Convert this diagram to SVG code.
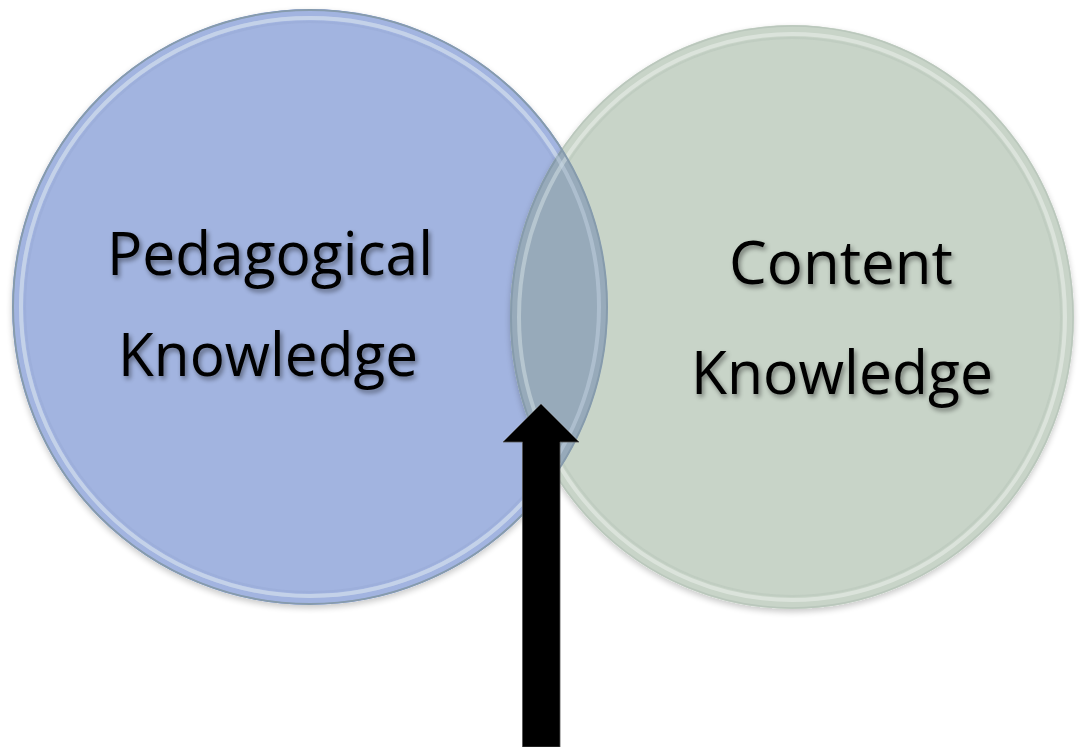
<svg xmlns="http://www.w3.org/2000/svg" width="1080" height="747" viewBox="0 0 1080 747">
  <style>
    .label { font-family: "Open Sans", "Liberation Sans", sans-serif; font-size: 61px; fill: #000; text-anchor: middle; filter: url(#textShadow); }
    .rim { fill: none; stroke-width: 1.5; }
    .bevel { fill: none; stroke: #ffffff; stroke-opacity: 0.35; stroke-width: 4; }
  </style>
  <defs>
    <filter id="textShadow" x="-10%" y="-20%" width="120%" height="150%">
      <feGaussianBlur in="SourceAlpha" stdDeviation="2.5"/>
      <feOffset dx="2" dy="3" result="b"/>
      <feComponentTransfer><feFuncA type="linear" slope="0.45"/></feComponentTransfer>
      <feMerge><feMergeNode/><feMergeNode in="SourceGraphic"/></feMerge>
    </filter>
    <filter id="discShadow" x="-10%" y="-10%" width="120%" height="120%">
      <feGaussianBlur in="SourceAlpha" stdDeviation="3"/>
      <feOffset dx="0" dy="3"/>
      <feComponentTransfer><feFuncA type="linear" slope="0.22"/></feComponentTransfer>
      <feMerge><feMergeNode/><feMergeNode in="SourceGraphic"/></feMerge>
    </filter>
    <clipPath id="leftClip"><ellipse cx="310" cy="307" rx="298" ry="298"/></clipPath>
  </defs>

  <rect width="1080" height="747" fill="#ffffff"/>

  <!-- Pedagogical Knowledge disc -->
  <g id="pedagogical">
    <ellipse cx="310" cy="307" rx="298" ry="298" fill="#A2B4E0" filter="url(#discShadow)"/>
    <ellipse class="rim" cx="310" cy="307" rx="297" ry="297" stroke="#93A6D3"/>
    <ellipse class="bevel" cx="310" cy="307" rx="289" ry="289"/>
    <ellipse cx="310" cy="307" rx="285" ry="285" fill="none" stroke="#97A9D6" stroke-width="2" stroke-opacity="0.5"/>
  </g>

  <!-- Content Knowledge disc -->
  <g id="content">
    <ellipse cx="792" cy="317" rx="282" ry="292" fill="#C8D4C8" filter="url(#discShadow)"/>
    <ellipse class="rim" cx="792" cy="317" rx="281" ry="291" stroke="#BAC7BC"/>
    <ellipse class="bevel" cx="792" cy="317" rx="273" ry="283"/>
    <ellipse cx="792" cy="317" rx="269" ry="279" fill="none" stroke="#B8C6BA" stroke-width="2" stroke-opacity="0.5"/>
  </g>

  <!-- shared region of the two discs -->
  <g id="overlap" clip-path="url(#leftClip)">
    <ellipse cx="792" cy="317" rx="282" ry="292" fill="#97AABA"/>
    <ellipse cx="792" cy="317" rx="281" ry="291" fill="none" stroke="#869BAC" stroke-width="2"/>
    <ellipse cx="792" cy="317" rx="273" ry="283" fill="none" stroke="#D6E2E6" stroke-opacity="0.5" stroke-width="4"/>
    <ellipse cx="310" cy="307" rx="297" ry="297" fill="none" stroke="#869BAC" stroke-width="2"/>
    <ellipse cx="310" cy="307" rx="289" ry="289" fill="none" stroke="#C8D6E6" stroke-opacity="0.45" stroke-width="4"/>
  </g>

  <!-- labels -->
  <g id="pedagogical-label">
    <text class="label" x="270" y="275" textLength="326" lengthAdjust="spacingAndGlyphs">Pedagogical</text>
    <text class="label" x="268" y="376" textLength="300" lengthAdjust="spacingAndGlyphs">Knowledge</text>
  </g>
  <g id="content-label">
    <text class="label" x="841" y="284" textLength="224" lengthAdjust="spacingAndGlyphs">Content</text>
    <text class="label" x="842" y="394" textLength="302" lengthAdjust="spacingAndGlyphs">Knowledge</text>
  </g>

  <!-- arrow pointing into the shared region -->
  <g id="connectors">
    <path d="M522.5 747 L522.5 442 L503 442 L541 404 L579 442 L560 442 L560 747 Z" fill="#000000" stroke="#555555" stroke-width="0.8"/>
  </g>
</svg>
